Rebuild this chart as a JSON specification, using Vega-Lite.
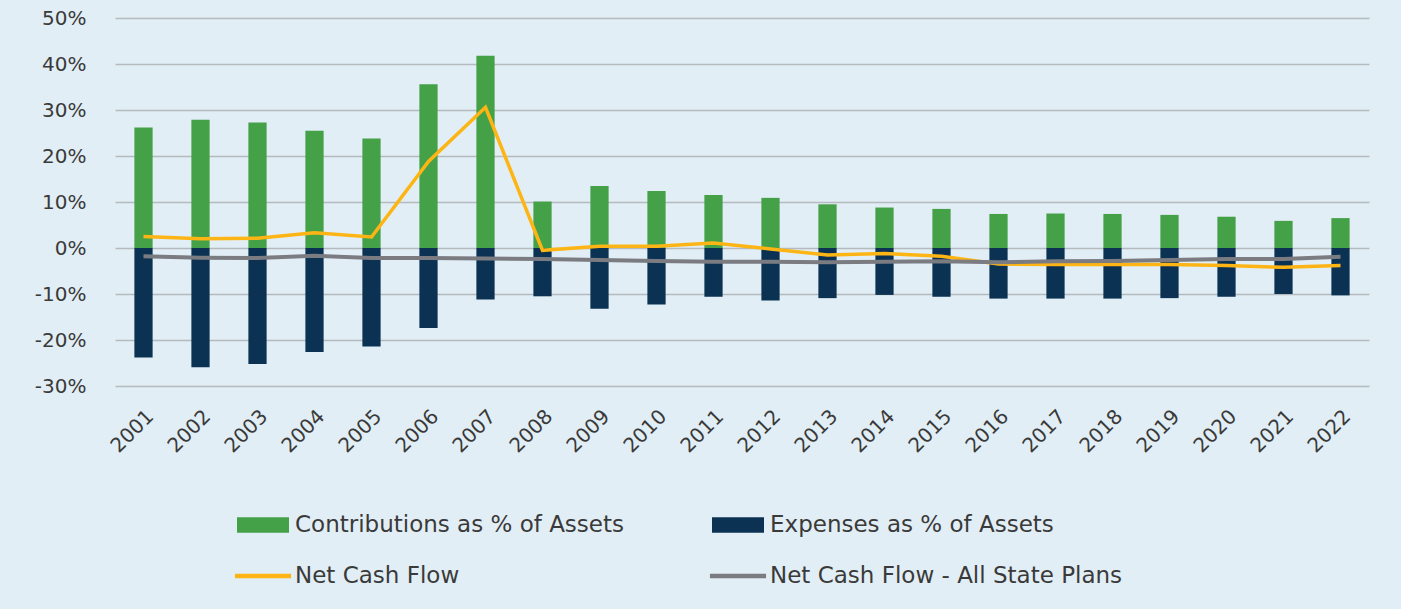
{
  "$schema": "https://vega.github.io/schema/vega-lite/v6.json",
  "width": 1254,
  "height": 368,
  "autosize": "none",
  "padding": {"left": 115, "top": 18, "right": 32, "bottom": 223},
  "background": "#e2eef5",
  "config": {
    "view": {"stroke": null},
    "font": "DejaVu Sans",
    "axis": {"labelColor": "#3a3a3a", "labelFont": "DejaVu Sans"},
    "legend": {"labelColor": "#3a3a3a", "labelFont": "DejaVu Sans"}
  },
  "data": {
    "values": [
      {"year": "2001", "contrib": 26.2, "expense": -23.8, "net": 2.5, "state": -1.8},
      {"year": "2002", "contrib": 27.9, "expense": -25.9, "net": 2.0, "state": -2.1},
      {"year": "2003", "contrib": 27.3, "expense": -25.2, "net": 2.1, "state": -2.2},
      {"year": "2004", "contrib": 25.5, "expense": -22.6, "net": 3.3, "state": -1.7},
      {"year": "2005", "contrib": 23.8, "expense": -21.4, "net": 2.4, "state": -2.2},
      {"year": "2006", "contrib": 35.6, "expense": -17.4, "net": 18.8, "state": -2.2},
      {"year": "2007", "contrib": 41.8, "expense": -11.2, "net": 30.6, "state": -2.3},
      {"year": "2008", "contrib": 10.1, "expense": -10.5, "net": -0.5, "state": -2.4},
      {"year": "2009", "contrib": 13.5, "expense": -13.2, "net": 0.4, "state": -2.6},
      {"year": "2010", "contrib": 12.4, "expense": -12.3, "net": 0.4, "state": -2.8},
      {"year": "2011", "contrib": 11.5, "expense": -10.6, "net": 1.1, "state": -3.0},
      {"year": "2012", "contrib": 10.9, "expense": -11.4, "net": -0.2, "state": -3.0},
      {"year": "2013", "contrib": 9.5, "expense": -10.9, "net": -1.5, "state": -3.1},
      {"year": "2014", "contrib": 8.8, "expense": -10.2, "net": -1.2, "state": -3.0},
      {"year": "2015", "contrib": 8.5, "expense": -10.6, "net": -1.8, "state": -2.9},
      {"year": "2016", "contrib": 7.4, "expense": -11.0, "net": -3.5, "state": -3.1},
      {"year": "2017", "contrib": 7.5, "expense": -11.0, "net": -3.6, "state": -2.9},
      {"year": "2018", "contrib": 7.4, "expense": -11.0, "net": -3.6, "state": -2.8},
      {"year": "2019", "contrib": 7.2, "expense": -10.9, "net": -3.6, "state": -2.6},
      {"year": "2020", "contrib": 6.8, "expense": -10.6, "net": -3.8, "state": -2.4},
      {"year": "2021", "contrib": 5.9, "expense": -10.0, "net": -4.2, "state": -2.4},
      {"year": "2022", "contrib": 6.5, "expense": -10.3, "net": -3.8, "state": -1.9}
    ]
  },
  "encoding": {
    "x": {
      "field": "year",
      "type": "ordinal",
      "scale": {"paddingInner": 0.68, "paddingOuter": 0.34},
      "axis": {
        "title": null,
        "labelAngle": -45,
        "labelFontSize": 20,
        "labelPadding": 20,
        "ticks": false,
        "domain": false,
        "grid": false
      }
    }
  },
  "layer": [
    {
      "mark": {"type": "bar"},
      "encoding": {
        "y": {
          "field": "contrib",
          "type": "quantitative",
          "scale": {"domain": [-30, 50], "nice": false},
          "axis": {
            "title": null,
            "values": [-30, -20, -10, 0, 10, 20, 30, 40, 50],
            "labelExpr": "datum.value + '%'",
            "labelFontSize": 20,
            "labelPadding": 29,
            "ticks": false,
            "domain": false,
            "grid": true,
            "gridColor": "#b5babf",
            "gridWidth": 1.5
          }
        },
        "color": {
          "datum": "Contributions as % of Assets",
          "type": "nominal",
          "scale": {
            "domain": ["Contributions as % of Assets", "Expenses as % of Assets", "Net Cash Flow", "Net Cash Flow - All State Plans"],
            "range": ["#45a147", "#0b3253", "#fdb515", "#7b7b82"]
          },
          "legend": {
            "title": null,
            "orient": "none",
            "legendX": 122,
            "legendY": 481,
            "columns": 2,
            "direction": "horizontal",
            "padding": 0,
            "labelFontSize": 23,
            "labelLimit": 600,
            "labelOffset": 6,
            "columnPadding": 85,
            "rowPadding": 13,
            "symbolSize": 2704,
            "symbolStrokeWidth": 0,
            "symbolOpacity": 1,
            "encode": {
              "symbols": {
                "update": {
                  "shape": {"signal": "indexof(['Net Cash Flow','Net Cash Flow - All State Plans'], datum.value) >= 0 ? 'M-1.08,-0.09H1.08V0.09H-1.08Z' : 'M-1,-0.3H1V0.3H-1Z'"},
                  "fill": {"signal": "scale('color', datum.value)"},
                  "strokeWidth": {"value": 0},
                  "opacity": {"value": 1}
                }
              }
            }
          }
        }
      }
    },
    {
      "mark": {"type": "bar"},
      "encoding": {
        "y": {"field": "expense", "type": "quantitative"},
        "color": {"datum": "Expenses as % of Assets", "type": "nominal"}
      }
    },
    {
      "mark": {"type": "line", "strokeWidth": 3.5},
      "encoding": {
        "y": {"field": "net", "type": "quantitative"},
        "color": {"datum": "Net Cash Flow", "type": "nominal"}
      }
    },
    {
      "mark": {"type": "line", "strokeWidth": 4},
      "encoding": {
        "y": {"field": "state", "type": "quantitative"},
        "color": {"datum": "Net Cash Flow - All State Plans", "type": "nominal"}
      }
    }
  ]
}
